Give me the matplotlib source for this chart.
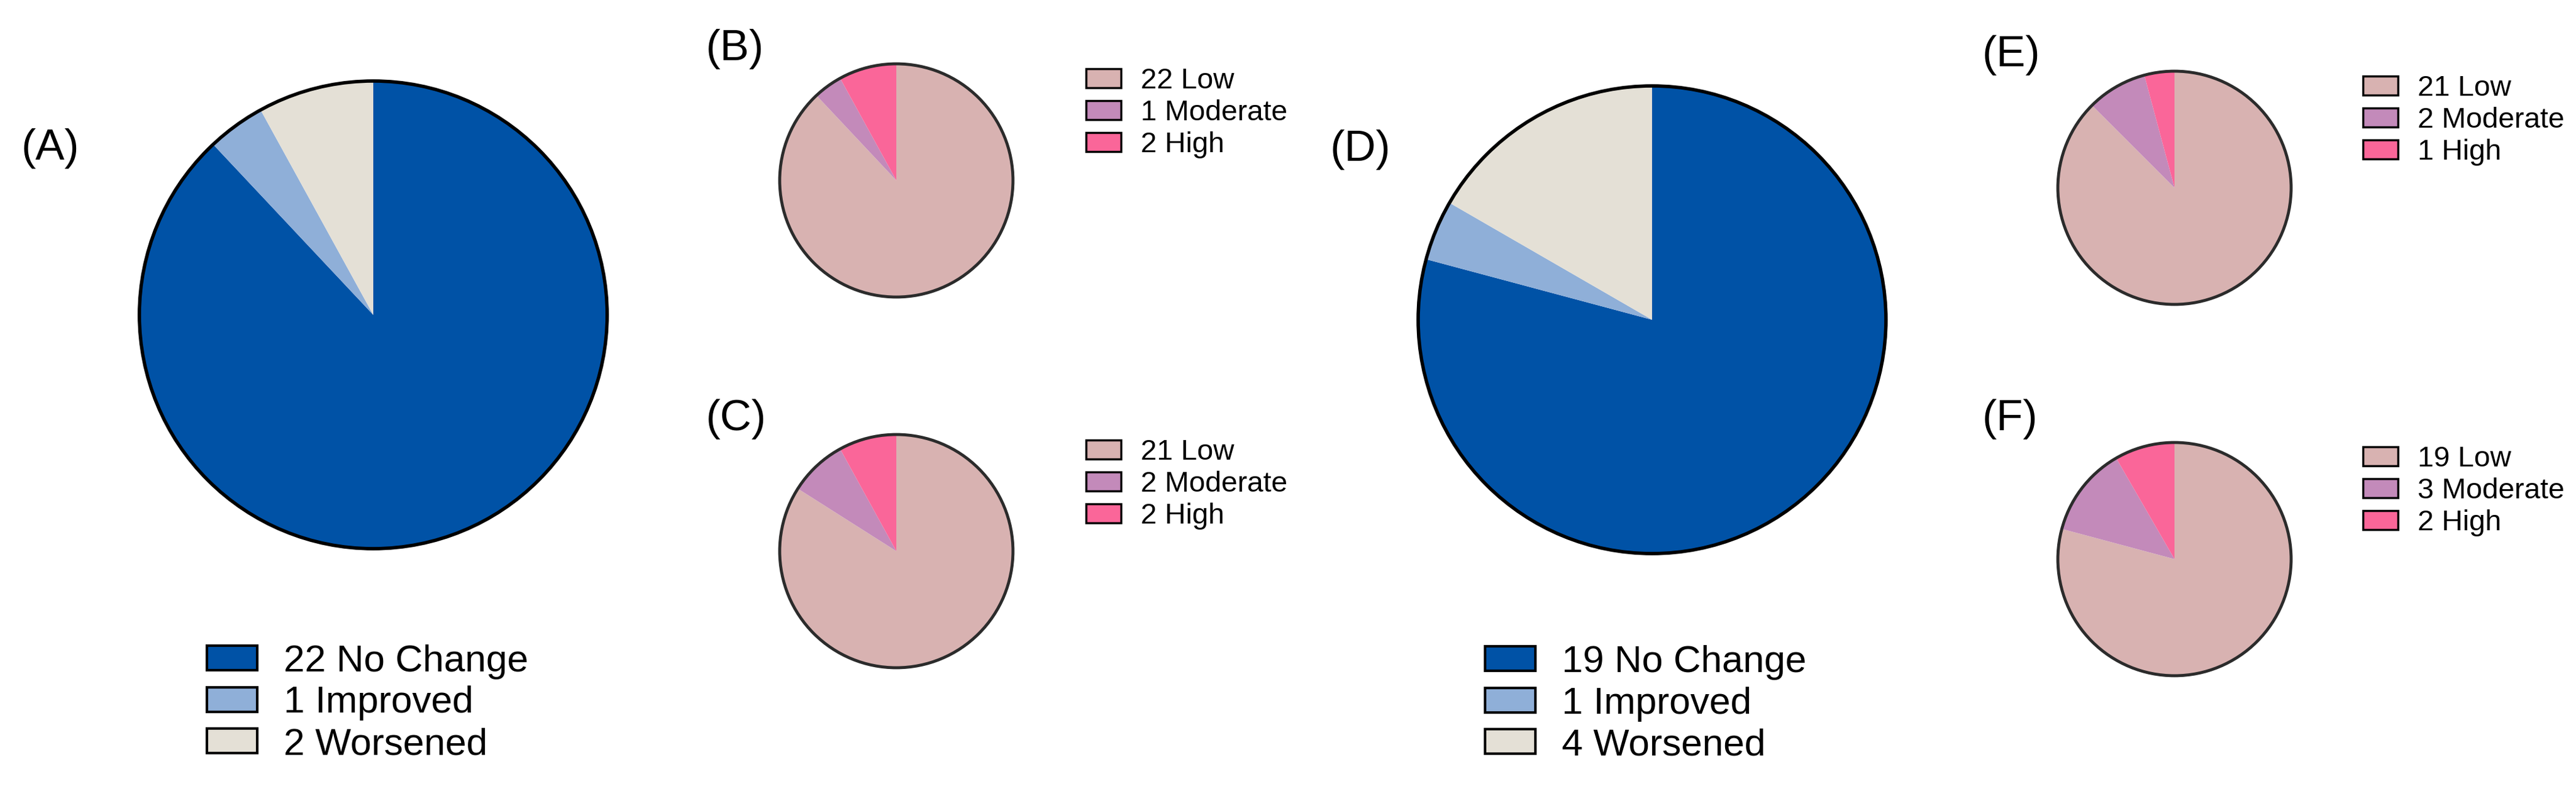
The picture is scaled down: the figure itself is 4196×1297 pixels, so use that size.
import matplotlib
matplotlib.use("Agg")
import matplotlib.pyplot as plt
from matplotlib.patches import Patch, Circle

plt.rcParams["font.family"] = ["Liberation Sans", "DejaVu Sans"]

# data
change_labels = ["No Change", "Improved", "Worsened"]
change_colors = ["#0052A6", "#8FAFD8", "#E4E0D6"]
risk_labels = ["Low", "Moderate", "High"]
risk_colors = ["#D8B2B1", "#C38ABA", "#FA6699"]

counts_A = [22, 1, 2]
counts_B = [22, 1, 2]
counts_C = [21, 2, 2]
counts_D = [19, 1, 4]
counts_E = [21, 2, 1]
counts_F = [19, 3, 2]

W, H = 4196, 1297
fig = plt.figure(figsize=(W / 100, H / 100), dpi=100)


def pie_panel(cx, cy, r, counts, colors, edge, lw):
    ax = fig.add_axes([(cx - r) / W, 1 - (cy + r) / H, 2 * r / W, 2 * r / H])
    ax.pie(counts, colors=colors, startangle=90, counterclock=False,
           radius=1, wedgeprops=dict(linewidth=0))
    ax.add_patch(Circle((0, 0), 1, fill=False, ec=edge, lw=lw, clip_on=False))
    ax.set_xlim(-1, 1)
    ax.set_ylim(-1, 1)
    ax.set_aspect("equal")
    ax.axis("off")
    return ax


def legend(x, y, counts, names, colors, fs, hl, hh, pad, lw):
    handles = [Patch(fc=c, ec="black", lw=lw) for c in colors]
    labels = [f"{n} {s}" for n, s in zip(counts, names)]
    fig.legend(handles, labels, loc="center left",
               bbox_to_anchor=(x / W, 1 - y / H), frameon=False,
               fontsize=fs, handlelength=hl, handleheight=hh,
               handletextpad=pad, labelspacing=0.17, borderpad=0,
               borderaxespad=0)


# big panels
pie_panel(608, 513, 381, counts_A, change_colors, "black", 4)
pie_panel(2691, 521, 381, counts_D, change_colors, "black", 4)
legend(337, 1146, counts_A, change_labels, change_colors, 44.5, 1.33, 0.62, 0.7, 3)
legend(2419, 1147, counts_D, change_labels, change_colors, 44.5, 1.33, 0.62, 0.7, 3)

# small panels
pie_panel(1460, 294, 190, counts_B, risk_colors, "#2b2b2b", 3.5)
pie_panel(1460, 898, 190, counts_C, risk_colors, "#2b2b2b", 3.5)
pie_panel(3542, 306, 190, counts_E, risk_colors, "#2b2b2b", 3.5)
pie_panel(3542, 911, 190, counts_F, risk_colors, "#2b2b2b", 3.5)
legend(1769, 184, counts_B, risk_labels, risk_colors, 34, 1.2, 0.63, 0.68, 2.5)
legend(1769, 789, counts_C, risk_labels, risk_colors, 34, 1.2, 0.63, 0.68, 2.5)
legend(3849, 196, counts_E, risk_labels, risk_colors, 34, 1.2, 0.63, 0.68, 2.5)
legend(3849, 800, counts_F, risk_labels, risk_colors, 34, 1.2, 0.63, 0.68, 2.5)

# panel letters
for lab, x, y in [("(A)", 35, 242), ("(B)", 1150, 80), ("(C)", 1150, 683),
                  ("(D)", 2167, 244), ("(E)", 3229, 90), ("(F)", 3229, 683)]:
    fig.text(x / W, 1 - y / H, lab, fontsize=51, ha="left", va="center")

fig.savefig("out.png", dpi=100, facecolor="white")
